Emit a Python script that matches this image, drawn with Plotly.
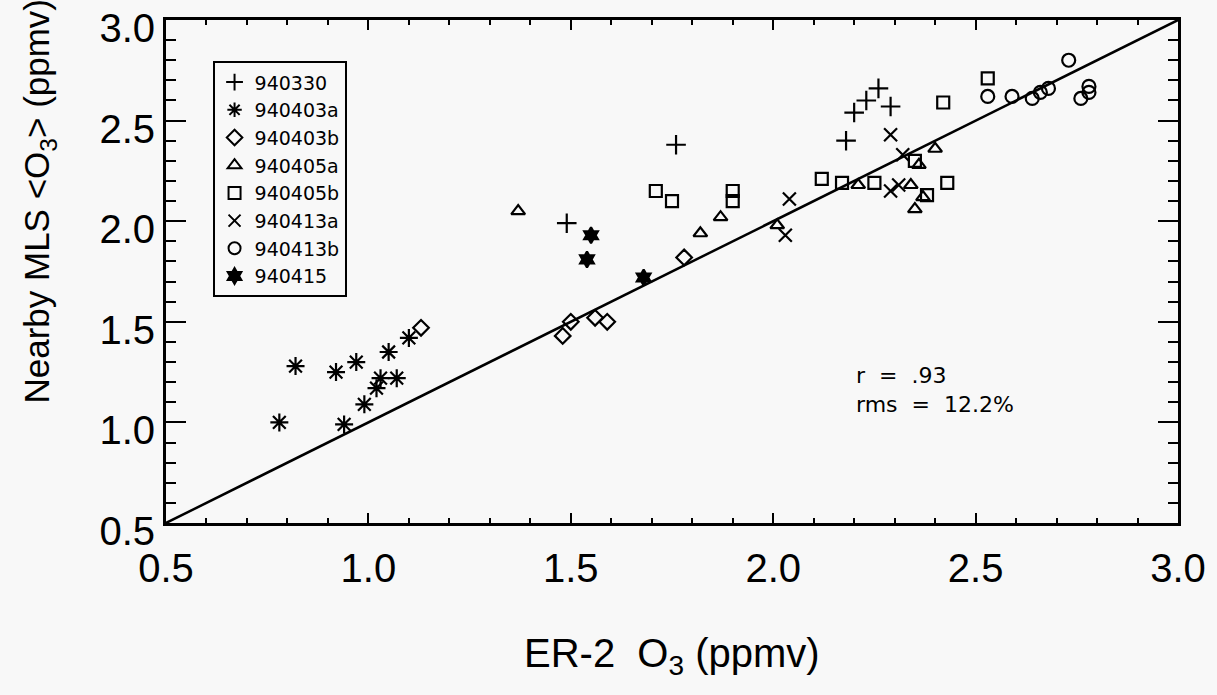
import plotly.graph_objects as go

# ER-2 O3 (x) vs nearby MLS <O3> (y), ppmv, one list pair per flight
x_940330 = [1.49, 1.76, 2.18, 2.20, 2.23, 2.26, 2.29]
y_940330 = [1.99, 2.38, 2.40, 2.54, 2.60, 2.66, 2.57]

x_940403a = [0.78, 0.82, 0.92, 0.97, 0.94, 0.99, 1.02, 1.03, 1.05, 1.07, 1.10]
y_940403a = [1.00, 1.28, 1.25, 1.30, 0.99, 1.09, 1.17, 1.22, 1.35, 1.22, 1.42]

x_940403b = [1.13, 1.48, 1.50, 1.56, 1.59, 1.78]
y_940403b = [1.47, 1.43, 1.50, 1.52, 1.50, 1.82]

x_940405a = [1.37, 1.82, 1.87, 2.01, 2.21, 2.34, 2.36, 2.35, 2.37, 2.40]
y_940405a = [2.05, 1.94, 2.02, 1.98, 2.18, 2.18, 2.28, 2.06, 2.12, 2.36]

x_940405b = [1.71, 1.75, 1.90, 1.90, 2.12, 2.17, 2.25, 2.35, 2.38, 2.43, 2.42, 2.53]
y_940405b = [2.15, 2.10, 2.10, 2.15, 2.21, 2.19, 2.19, 2.30, 2.13, 2.19, 2.59, 2.71]

x_940413a = [2.03, 2.04, 2.29, 2.32, 2.29, 2.31]
y_940413a = [1.93, 2.11, 2.43, 2.33, 2.15, 2.18]

x_940413b = [2.53, 2.59, 2.64, 2.66, 2.68, 2.73, 2.76, 2.78, 2.78]
y_940413b = [2.62, 2.62, 2.61, 2.64, 2.66, 2.80, 2.61, 2.64, 2.67]

x_940415 = [1.55, 1.54, 1.68]
y_940415 = [1.93, 1.81, 1.72]

line_x = [0.5, 3.0]
line_y = [0.5, 3.0]

bg = "#f8f8f8"

series = [
    ("940330", x_940330, y_940330, "cross-thin-open", 14),
    ("940403a", x_940403a, y_940403a, "asterisk-open", 15),
    ("940403b", x_940403b, y_940403b, "diamond-open", 12),
    ("940405a", x_940405a, y_940405a, "triangle-up-open", 12),
    ("940405b", x_940405b, y_940405b, "square-open", 12),
    ("940413a", x_940413a, y_940413a, "x-thin-open", 13),
    ("940413b", x_940413b, y_940413b, "circle-open", 13),
    ("940415", x_940415, y_940415, "hexagram", 12),
]

fig = go.Figure()

fig.add_trace(go.Scatter(x=line_x, y=line_y, mode="lines",
                         line=dict(color="black", width=2.5),
                         showlegend=False, hoverinfo="skip"))

for name, xs, ys, sym, size in series:
    fig.add_trace(go.Scatter(
        x=xs, y=ys, mode="markers", name=name,
        marker=dict(symbol=sym, size=size, color="black",
                    line=dict(color="black", width=2.2)),
    ))

axis_common = dict(
    range=[0.5, 3.0], dtick=0.5, tickformat=".1f",
    showgrid=False, zeroline=False, automargin=False,
    showline=True, linecolor="black", linewidth=3, mirror="allticks",
    ticks="inside", tickcolor="black", tickwidth=2,
    ticklabeloverflow="allow",
    tickfont=dict(family="Liberation Sans", size=40, color="black"),
)

fig.update_xaxes(**axis_common, ticklen=10, ticklabelstandoff=8,
                 minor=dict(dtick=0.1, ticks="inside", ticklen=5,
                            tickcolor="black", tickwidth=2))
fig.update_yaxes(**axis_common, ticklen=20, ticklabelshift=8,
                 minor=dict(dtick=0.1, ticks="inside", ticklen=10,
                            tickcolor="black", tickwidth=2))

fig.add_annotation(text="ER-2  O<sub>3</sub> (ppmv)", xref="paper", yref="paper",
                   x=0.5, y=-0.265, xanchor="center", yanchor="middle",
                   showarrow=False,
                   font=dict(family="Liberation Sans", size=40, color="black"))
fig.add_annotation(text="Nearby MLS &lt;O<sub>3</sub>&gt; (ppmv)", xref="paper", yref="paper",
                   x=-0.125, y=0.64, xanchor="center", yanchor="middle",
                   textangle=-90, showarrow=False,
                   font=dict(family="Liberation Sans", size=35, color="black"))
fig.add_annotation(text="r  =  .93<br>rms  =  12.2%", xref="paper", yref="paper",
                   x=0.68, y=0.265, xanchor="left", yanchor="middle", align="left",
                   showarrow=False,
                   font=dict(family="DejaVu Sans", size=22, color="black"))

fig.update_layout(
    width=1217, height=695,
    margin=dict(l=166, r=39, t=20, b=172),
    paper_bgcolor=bg, plot_bgcolor=bg,
    showlegend=True,
    legend=dict(x=0.046, y=0.918, xanchor="left", yanchor="top",
                bgcolor=bg, bordercolor="black", borderwidth=2,
                font=dict(family="DejaVu Sans", size=19, color="black"),
                itemsizing="constant", tracegroupgap=0),
)

# drop the default page margin so the figure sits at the window's corner
fig.write_html("out.html", config={"displayModeBar": False},
               post_script="document.body.style.margin='0px';")
